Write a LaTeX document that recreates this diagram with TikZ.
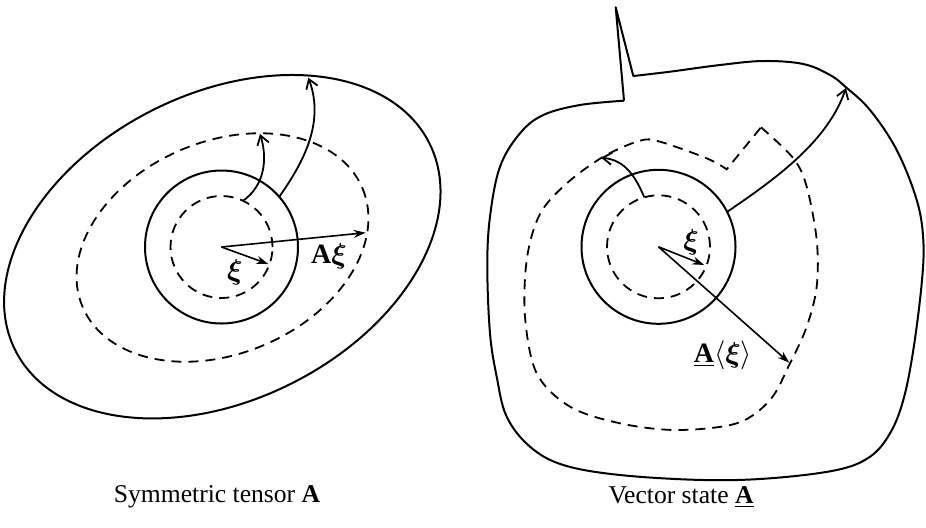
\documentclass[tikz,border=0pt]{standalone}
\usepackage{fontspec}
\setmainfont{Liberation Serif}
\usepackage{bm}
\usetikzlibrary{arrows.meta}
\begin{document}
\begin{tikzpicture}[x=0.5pt,y=-0.5pt,
  thick line/.style={line width=1pt, line join=round},
  dash line/.style={line width=0.9pt, dash pattern=on 5pt off 3.5pt},
  ring/.style={circle, inner sep=0pt, outer sep=0pt},
  vecarrow/.style={line width=0.8pt, -{Stealth[length=6pt,width=4pt]}},
  bentarrow/.style={line width=0.9pt, -{Straight Barb[length=4.5pt,width=6pt]}},
  lbl/.style={font=\fontsize{12.8}{15}\selectfont, inner sep=1pt},
  mlbl/.style={font=\fontsize{14}{16}\selectfont, inner sep=1pt}]
\useasboundingbox (0,0) rectangle (926,527);

% ---------------- left: symmetric tensor ----------------
\coordinate (cL) at (221.5,247);
\node[ring, draw, thick line, minimum size=76.5pt] (sL) at (cL) {};
\node[ring, draw, dash line, minimum size=51pt] (dL) at (cL) {};
\draw[dash line, rotate around={23:(222.5,247.5)}] (222.5,247.5) ellipse [x radius=152, y radius=106];
\draw[thick line, rotate around={26.5:(222.3,246.7)}] (222.3,246.7) ellipse [x radius=231.5, y radius=153.3];

\coordinate (xiL) at (268.3,264);
\coordinate (AxiL) at (365.7,232.7);
\coordinate (t1L) at (260,134);
\coordinate (t2L) at (308.3,77.7);
\draw[vecarrow] (cL) -- (xiL);
\draw[vecarrow] (cL) -- (AxiL);
\draw[bentarrow] (dL.65) .. controls (264,186) and (268,160) .. (t1L);
\draw[bentarrow] (sL.41) .. controls (300,167) and (326,125) .. (t2L);
\node[mlbl] (lxiL) at (235,272) {$\bm{\xi}$};
\node[mlbl] (lAxiL) at (329,256) {$\mathbf{A}\bm{\xi}$};

% ---------------- right: vector state ----------------
\coordinate (cR) at (658.5,246.8);
\node[ring, draw, thick line, minimum size=77pt] (sR) at (cR) {};
\node[ring, draw, dash line, minimum size=51.5pt] (dR) at (cR) {};

\draw[dash line] plot[smooth, tension=0.55] coordinates {
  (761,127.3) (793.3,158.3) (806.7,186.7) (816.7,240) (816.7,286.7)
  (806.7,326.7) (790,363.3) (770,400) (736.7,423.3) (676.7,430)
  (620,423.3) (570,406.7) (536.7,373.3) (525,316.7) (527,258)
  (540,214) (566,184) (603.3,156.7) (640,140.7) (660,141.7) (706.7,158.3) (726.7,169.3)}
  -- cycle;

\draw[thick line] (624,100.7) -- (615.7,7.3) -- (633.3,76)
  -- plot[smooth, tension=0.6] coordinates {
  (633.3,76) (670,71.7) (720,65) (763.3,61) (803.3,64) (830,75) (846,87.3)
  (870,110) (896.7,150) (916.7,200) (923.3,240) (921.7,283.3) (913.3,350)
  (903.3,400) (890,433.3) (870,456.7) (836.7,470) (770,478.3) (703.3,480)
  (620,475) (563.3,465) (530,446.7) (506.7,416.7) (496.7,376.7) (490,333.3)
  (487.3,266.7) (490,216.7) (500,166.7) (520,133.3) (543.3,115) (580,105) (624,100.7)};

\coordinate (xiR) at (704.3,265);
\coordinate (AxiR) at (789.3,362.7);
\coordinate (t1R) at (601,157.7);
\coordinate (t2R) at (846,88);
\draw[vecarrow] (cR) -- (xiR);
\draw[vecarrow] (cR) -- (AxiR);
\draw[bentarrow] (dR.106) .. controls (636,178) and (626,160) .. (t1R);
\draw[bentarrow] (sR.27) .. controls (780,176) and (828,140) .. (t2R);
\node[mlbl] (lxiR) at (691,242) {$\bm{\xi}$};
\node[mlbl] (lAxiR) at (723,355) {$\underline{\mathbf{A}}\langle\bm{\xi}\rangle$};

% ---------------- captions ----------------
\node[lbl] (capL) at (217,497) {Symmetric tensor \textbf{A}};
\node[lbl] (capR) at (681,497) {Vector state \underline{\textbf{A}}};
\end{tikzpicture}
\end{document}
